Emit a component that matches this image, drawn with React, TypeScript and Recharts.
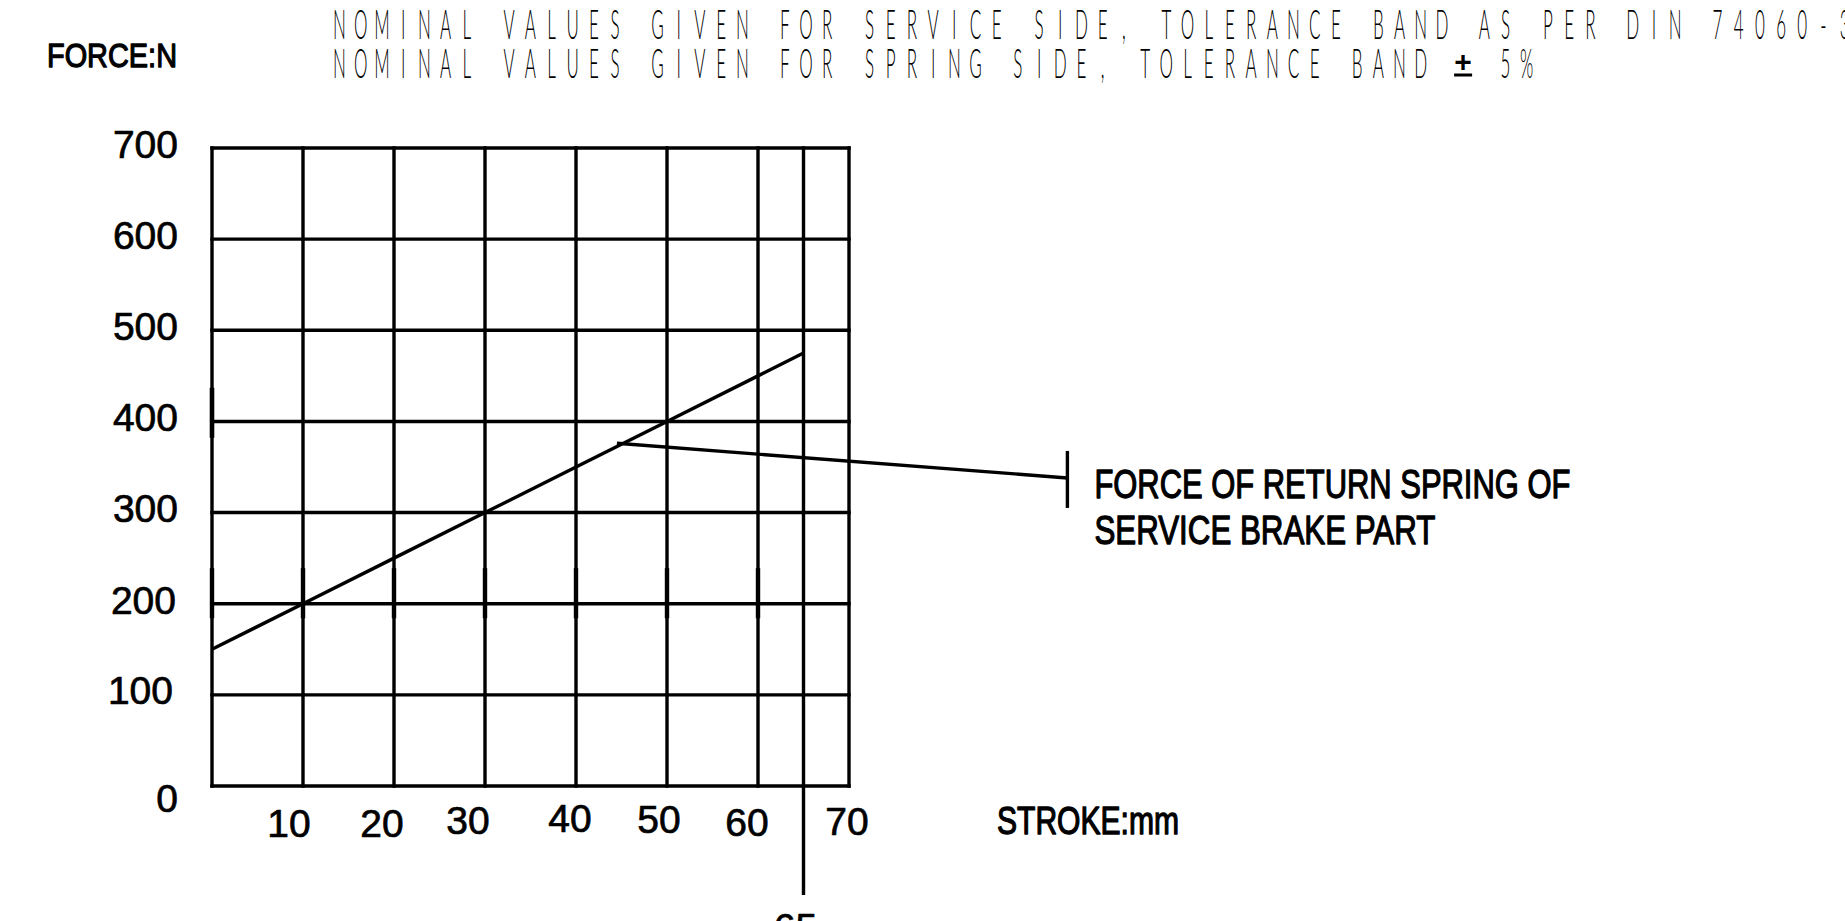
import React from 'react';
import {
  LineChart,
  Line,
  XAxis,
  YAxis,
  CartesianGrid,
  ReferenceLine,
} from 'recharts';

// stroke (mm) vs. return spring force (N)
const strokeMm = [0, 10, 20, 30, 40, 50, 60, 65];
const forceN = [150, 200, 250, 300, 350, 400, 450, 475];

const xTicks = [0, 10, 20, 30, 40, 50, 60, 65, 70];
const yTicks = [0, 100, 200, 300, 400, 500, 600, 700];

const headerLines = [
  'NOMINAL VALUES GIVEN FOR SERVICE SIDE, TOLERANCE BAND AS PER DIN 74060-3',
  'NOMINAL VALUES GIVEN FOR SPRING SIDE, TOLERANCE BAND ± 5%',
];
const noteLines = ['FORCE OF RETURN SPRING OF', 'SERVICE BRAKE PART'];

// leader of the note, in chart units
const leaderFrom = { x: 44.5, y: 376 };
const leaderTo = { x: 94, y: 338 };

// short heavier strokes on the grid (tolerance marks)
const markStrokes = [0];
const markSpring = [382, 437];
const markService = [184, 239];
const markServiceAt = [0, 10, 20, 30, 40, 50, 60];

const data = strokeMm.map((s, i) => ({ stroke: s, force: forceN[i] }));

const labelFont = '"Liberation Sans", Arial, sans-serif';
const thinFont = 'Lato, Inter, "Noto Sans", sans-serif';
const LW = 3.4;

// small hand nudges so labels sit like on the drawing
const xNudge: Record<number, [number, number]> = {
  10: [-14, 51], 20: [-12, 51], 30: [-17, 48], 40: [-6, 46],
  50: [-8, 47], 60: [-11, 50], 70: [-2, 49],
};
const yNudge: Record<number, [number, number]> = {
  0: [0, 26], 100: [-5, 9], 200: [-2, 10],
};

// digits and lettering get a light outline so they read as heavy as the CAD font
const digitStyle = { stroke: '#000', strokeWidth: 0.7, strokeLinejoin: 'round' as const };
const letterStyle = { stroke: '#000', strokeWidth: 1.3, strokeLinejoin: 'round' as const };

const XTick = (props: any) => {
  const { x, y, payload } = props;
  const v = payload.value;
  if (v === 0) return <g />;
  if (v === 65) {
    return (
      <g>
        <line x1={x} y1={y} x2={x} y2={y + 109} stroke="#000" strokeWidth={LW} />
        <text x={x - 8} y={y + 155} textAnchor="middle" fontFamily={labelFont} fontSize={39} fill="#000" {...digitStyle}>65</text>
      </g>
    );
  }
  const [dx, dy] = xNudge[v] ?? [0, 48];
  return (
    <text x={x + dx} y={y + dy} textAnchor="middle" fontFamily={labelFont} fontSize={39} fill="#000" {...digitStyle}>
      {v}
    </text>
  );
};

const YTick = (props: any) => {
  const { x, y, payload } = props;
  const v = payload.value;
  const [dx, dy] = yNudge[v] ?? [0, 9.5];
  return (
    <text x={x - 34 + dx} y={y + dy} textAnchor="end" fontFamily={labelFont} fontSize={39} fill="#000" {...digitStyle}>
      {v}
    </text>
  );
};

const LeaderShape = (p: any) => {
  const { x1, y1, x2, y2 } = p;
  return (
    <g>
      <line x1={x1} y1={y1} x2={x2} y2={y2} stroke="#000" strokeWidth={LW} />
      <line x1={x2} y1={y2 - 27} x2={x2} y2={y2 + 30} stroke="#000" strokeWidth={LW} />
      <text x={x2 + 27} y={y2 + 20} fontFamily={labelFont} fontSize={41} fill="#000" {...letterStyle}
        textLength={476} lengthAdjust="spacingAndGlyphs">{noteLines[0]}</text>
      <text x={x2 + 27} y={y2 + 66} fontFamily={labelFont} fontSize={41} fill="#000" {...letterStyle}
        textLength={341} lengthAdjust="spacingAndGlyphs">{noteLines[1]}</text>
    </g>
  );
};

// CAD style spaced header: every glyph centred on a fixed pitch
const CadLine = ({ text, x0, y, pitch }: { text: string; x0: number; y: number; pitch: number }) => (
  <g>
    {Array.from(text).map((ch, i) => {
      if (ch === ' ') return null;
      const cx = x0 + i * pitch;
      if (ch === '±') {
        return (
          <g key={i}>
            <text x={cx} y={y - 6} textAnchor="middle" fontFamily={labelFont} fontWeight={700} fontSize={30} fill="#000">+</text>
            <line x1={cx - 9} x2={cx + 9} y1={y - 3} y2={y - 3} stroke="#000" strokeWidth={3} />
          </g>
        );
      }
      return (
        <text
          key={i}
          transform={`translate(${cx},${y}) scale(0.42,1)`}
          textAnchor="middle"
          fontFamily={thinFont}
          fontWeight={300}
          fontSize={40.5}
          fill="#000"
        >
          {ch}
        </text>
      );
    })}
  </g>
);

export default function App() {
  return (
    <div style={{ position: 'absolute', left: 0, top: 0, width: 1845, height: 921, overflow: 'hidden', background: '#fff' }}>
      <LineChart
        width={1845}
        height={921}
        data={data}
        margin={{ top: 148, right: 996, bottom: 0, left: 0 }}
      >
        <CartesianGrid stroke="#000" strokeWidth={LW} strokeLinecap="square" />
        <XAxis
          dataKey="stroke"
          type="number"
          domain={[0, 70]}
          ticks={xTicks}
          interval={0}
          height={135}
          axisLine={false}
          tickLine={false}
          tickSize={0}
          tickMargin={0}
          tick={(p: any) => <XTick {...p} />}
        />
        <YAxis
          type="number"
          domain={[0, 700]}
          ticks={yTicks}
          interval={0}
          width={212}
          axisLine={false}
          tickLine={false}
          tickSize={0}
          tickMargin={0}
          tick={(p: any) => <YTick {...p} />}
        />
        {markStrokes.map((s) => (
          <ReferenceLine key={`sp${s}`} segment={[{ x: s, y: markSpring[0] }, { x: s, y: markSpring[1] }]}
            stroke="#000" strokeWidth={4.6} ifOverflow="visible" />
        ))}
        {markServiceAt.map((s) => (
          <ReferenceLine key={`sv${s}`} segment={[{ x: s, y: markService[0] }, { x: s, y: markService[1] }]}
            stroke="#000" strokeWidth={4.4} ifOverflow="visible" />
        ))}
        <Line
          type="linear"
          dataKey="force"
          stroke="#000"
          strokeWidth={LW}
          dot={false}
          isAnimationActive={false}
        />
        <ReferenceLine
          segment={[leaderFrom, leaderTo]}
          ifOverflow="visible"
          shape={(p: any) => <LeaderShape {...p} />}
        />
      </LineChart>
      <svg width={1845} height={921} style={{ position: 'absolute', left: 0, top: 0, pointerEvents: 'none' }}>
        <text x={47} y={67} fontFamily={labelFont} fontSize={34} fill="#000" {...letterStyle} textLength={130} lengthAdjust="spacingAndGlyphs">
          FORCE:N
        </text>
        <text x={997} y={834} fontFamily={labelFont} fontSize={38} fill="#000" {...letterStyle} textLength={182} lengthAdjust="spacingAndGlyphs">
          STROKE:mm
        </text>
        <CadLine text={headerLines[0]} x0={339.5} y={38.5} pitch={21.2} />
        <CadLine text={headerLines[1]} x0={339.5} y={78} pitch={21.2} />
      </svg>
    </div>
  );
}
